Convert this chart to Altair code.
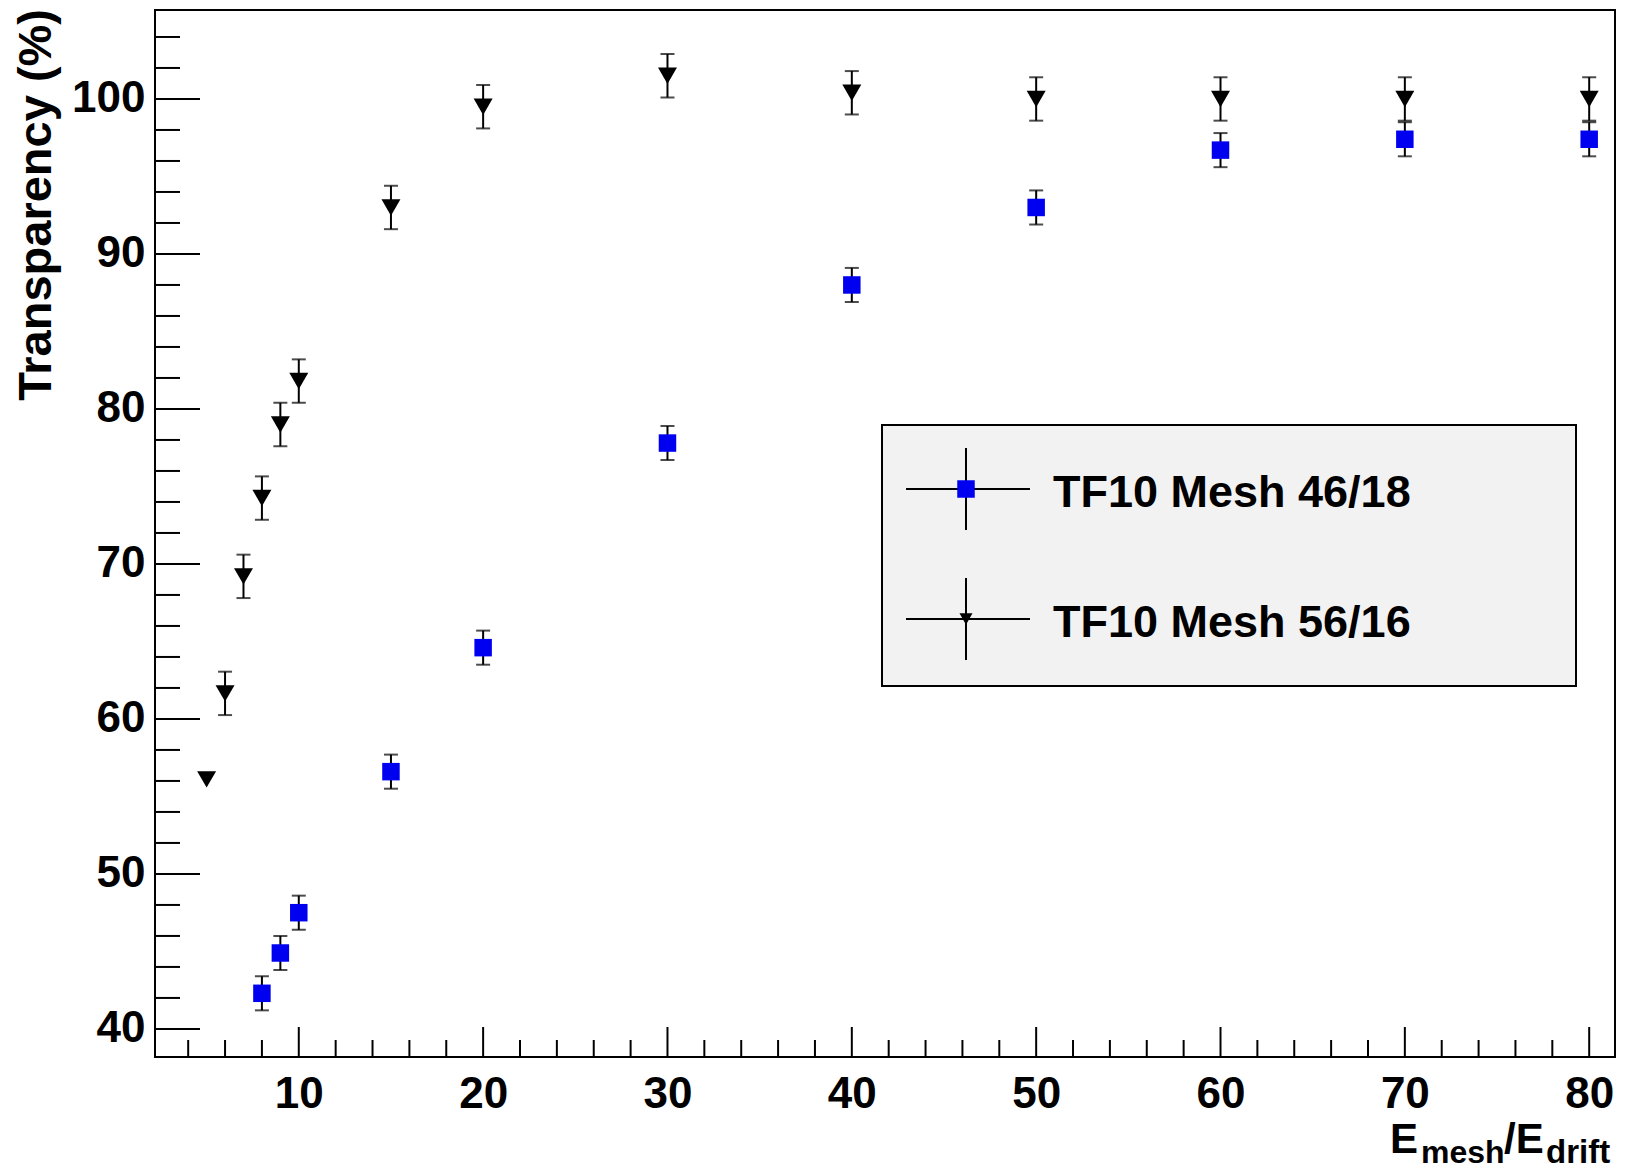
import altair as alt
import pandas as pd

# ---- data ----
x_56 = [5, 6, 7, 8, 9, 10, 15, 20, 30, 40, 50, 60, 70, 80]
y_56 = [56.1, 61.65, 69.2, 74.25, 79.0, 81.8, 93.0, 99.5, 101.5, 100.4, 100.0, 100.0, 100.0, 100.0]
e_56 = [0.0, 1.4, 1.4, 1.4, 1.4, 1.4, 1.4, 1.4, 1.4, 1.4, 1.4, 1.4, 1.4, 1.4]

x_46 = [8, 9, 10, 15, 20, 30, 40, 50, 60, 70, 80]
y_46 = [42.3, 44.9, 47.5, 56.6, 64.6, 77.8, 88.0, 93.0, 96.7, 97.4, 97.4]
e_46 = [1.1, 1.1, 1.1, 1.1, 1.1, 1.1, 1.1, 1.1, 1.1, 1.1, 1.1]

labels = ["TF10 Mesh 46/18", "TF10 Mesh 56/16"]
y_title = "Transparency (%)"

y_major = [40, 50, 60, 70, 80, 90, 100]
y_minor = [42, 44, 46, 48, 52, 54, 56, 58, 62, 64, 66, 68, 72, 74, 76, 78,
           82, 84, 86, 88, 92, 94, 96, 98, 102, 104]
x_major = [10, 20, 30, 40, 50, 60, 70, 80]
x_minor = [4, 6, 8, 12, 14, 16, 18, 22, 24, 26, 28, 32, 34, 36, 38, 42, 44, 46, 48,
           52, 54, 56, 58, 62, 64, 66, 68, 72, 74, 76, 78]

# ---- layout / style ----
W, H = 1460, 1047
FONT = "Liberation Sans"
BLUE = "#0000f0"

df46 = pd.DataFrame({"x": x_46, "y": y_46, "e": e_46})
df56 = pd.DataFrame({"x": x_56, "y": y_56, "e": e_56})

xs = alt.Scale(domain=[2.2, 81.4], nice=False, zero=False)
ys = alt.Scale(domain=[38.19, 105.74], nice=False, zero=False)

x_axis = alt.Axis(values=x_major, format="d", ticks=False, domain=False, grid=False,
                  labelFont=FONT, labelFontWeight="bold", labelFontSize=44,
                  labelPadding=15, labelColor="black", labelFlush=False, title=None)
y_axis = alt.Axis(values=y_major, format="d", ticks=False, domain=False, grid=False,
                  labelFont=FONT, labelFontWeight="bold", labelFontSize=44,
                  labelPadding=10, labelColor="black", labelFlush=False, title=None)


def X(field="x"):
    return alt.X(f"{field}:Q", scale=xs, axis=x_axis)


def Y(field="y"):
    return alt.Y(f"{field}:Q", scale=ys, axis=y_axis)


def series(df, shape, size, color):
    base = alt.Chart(df).transform_calculate(
        lo="datum.y - datum.e", hi="datum.y + datum.e")
    withbar = base.transform_filter("datum.e > 0")
    rule = withbar.mark_rule(color="black", strokeWidth=2).encode(
        x=X(), y=Y("lo"), y2="hi:Q")
    cap_lo = withbar.mark_tick(color="black", orient="horizontal", size=14,
                               thickness=2).encode(x=X(), y=Y("lo"))
    cap_hi = withbar.mark_tick(color="black", orient="horizontal", size=14,
                               thickness=2).encode(x=X(), y=Y("hi"))
    pts = base.mark_point(shape=shape, filled=True, size=size, color=color,
                          opacity=1).encode(x=X(), y=Y())
    return [rule, cap_lo, cap_hi, pts]


# ---- inner ticks (ROOT style) ----
ytick_major = alt.Chart(pd.DataFrame({"v": y_major})).mark_rule(
    color="black", strokeWidth=2).encode(y=Y("v"), x=alt.value(0), x2=alt.value(45))
ytick_minor = alt.Chart(pd.DataFrame({"v": y_minor})).mark_rule(
    color="black", strokeWidth=2).encode(y=Y("v"), x=alt.value(0), x2=alt.value(25))
xtick_major = alt.Chart(pd.DataFrame({"v": x_major})).mark_rule(
    color="black", strokeWidth=2).encode(x=X("v"), y=alt.value(H), y2=alt.value(H - 30))
xtick_minor = alt.Chart(pd.DataFrame({"v": x_minor})).mark_rule(
    color="black", strokeWidth=2).encode(x=X("v"), y=alt.value(H), y2=alt.value(H - 17))

# ---- axis titles ----
ytitle = alt.Chart(pd.DataFrame({"t": [y_title]})).mark_text(
    font=FONT, fontWeight="bold", fontSize=47, angle=270, align="right",
    baseline="alphabetic", color="black").encode(
    text="t:N", x=alt.value(-104), y=alt.value(-1))


def txt(s, x, y, size):
    return alt.Chart(pd.DataFrame({"t": [s]})).mark_text(
        font=FONT, fontWeight="bold", fontSize=size, align="left",
        baseline="alphabetic", color="black").encode(
        text="t:N", x=alt.value(x), y=alt.value(y))


xt_E1 = txt("E", 1235, 1143, 42)
xt_mesh = txt("mesh", 1266, 1153, 32)
xt_slash = txt("/E", 1349, 1143, 42)
xt_drift = txt("drift", 1391, 1153, 33)

# ---- legend (ROOT TLegend look) ----
leg_box = alt.Chart(pd.DataFrame({"a": [0]})).mark_rect(
    fill="#f2f2f2", stroke="black", strokeWidth=2).encode(
    x=alt.value(727), x2=alt.value(1421), y=alt.value(415), y2=alt.value(676))


def legend_entry(label, shape, size, color, yc):
    d = pd.DataFrame({"t": [label]})
    hl = alt.Chart(d).mark_rule(color="black", strokeWidth=2).encode(
        x=alt.value(751), x2=alt.value(875), y=alt.value(yc))
    vl = alt.Chart(d).mark_rule(color="black", strokeWidth=2).encode(
        x=alt.value(811), y=alt.value(yc - 41), y2=alt.value(yc + 41))
    mk = alt.Chart(d).mark_point(shape=shape, filled=True, size=size, color=color,
                                 opacity=1).encode(x=alt.value(811), y=alt.value(yc))
    tx = alt.Chart(d).mark_text(font=FONT, fontWeight="bold", fontSize=45,
                                align="left", baseline="alphabetic",
                                color="black").encode(
        text="t:N", x=alt.value(898), y=alt.value(yc + 18))
    return [hl, vl, mk, tx]


layers = (
    [ytick_major, ytick_minor, xtick_major, xtick_minor]
    + series(df46, "square", 306, BLUE)
    + series(df56, "triangle-down", 360, "black")
    + [leg_box]
    + legend_entry(labels[0], "square", 306, BLUE, 479)
    + legend_entry(labels[1], "triangle-down", 170, "black", 609)
    + [ytitle, xt_E1, xt_mesh, xt_slash, xt_drift]
)

chart = alt.layer(*layers).properties(
    width=W, height=H,
    autosize=alt.AutoSizeParams(type="none"),
    padding={"left": 155, "top": 10, "right": 10, "bottom": 116},
    background="white",
).configure_view(stroke="black", strokeWidth=2)

chart.save("out.html", embed_options={"renderer": "svg", "actions": False})
